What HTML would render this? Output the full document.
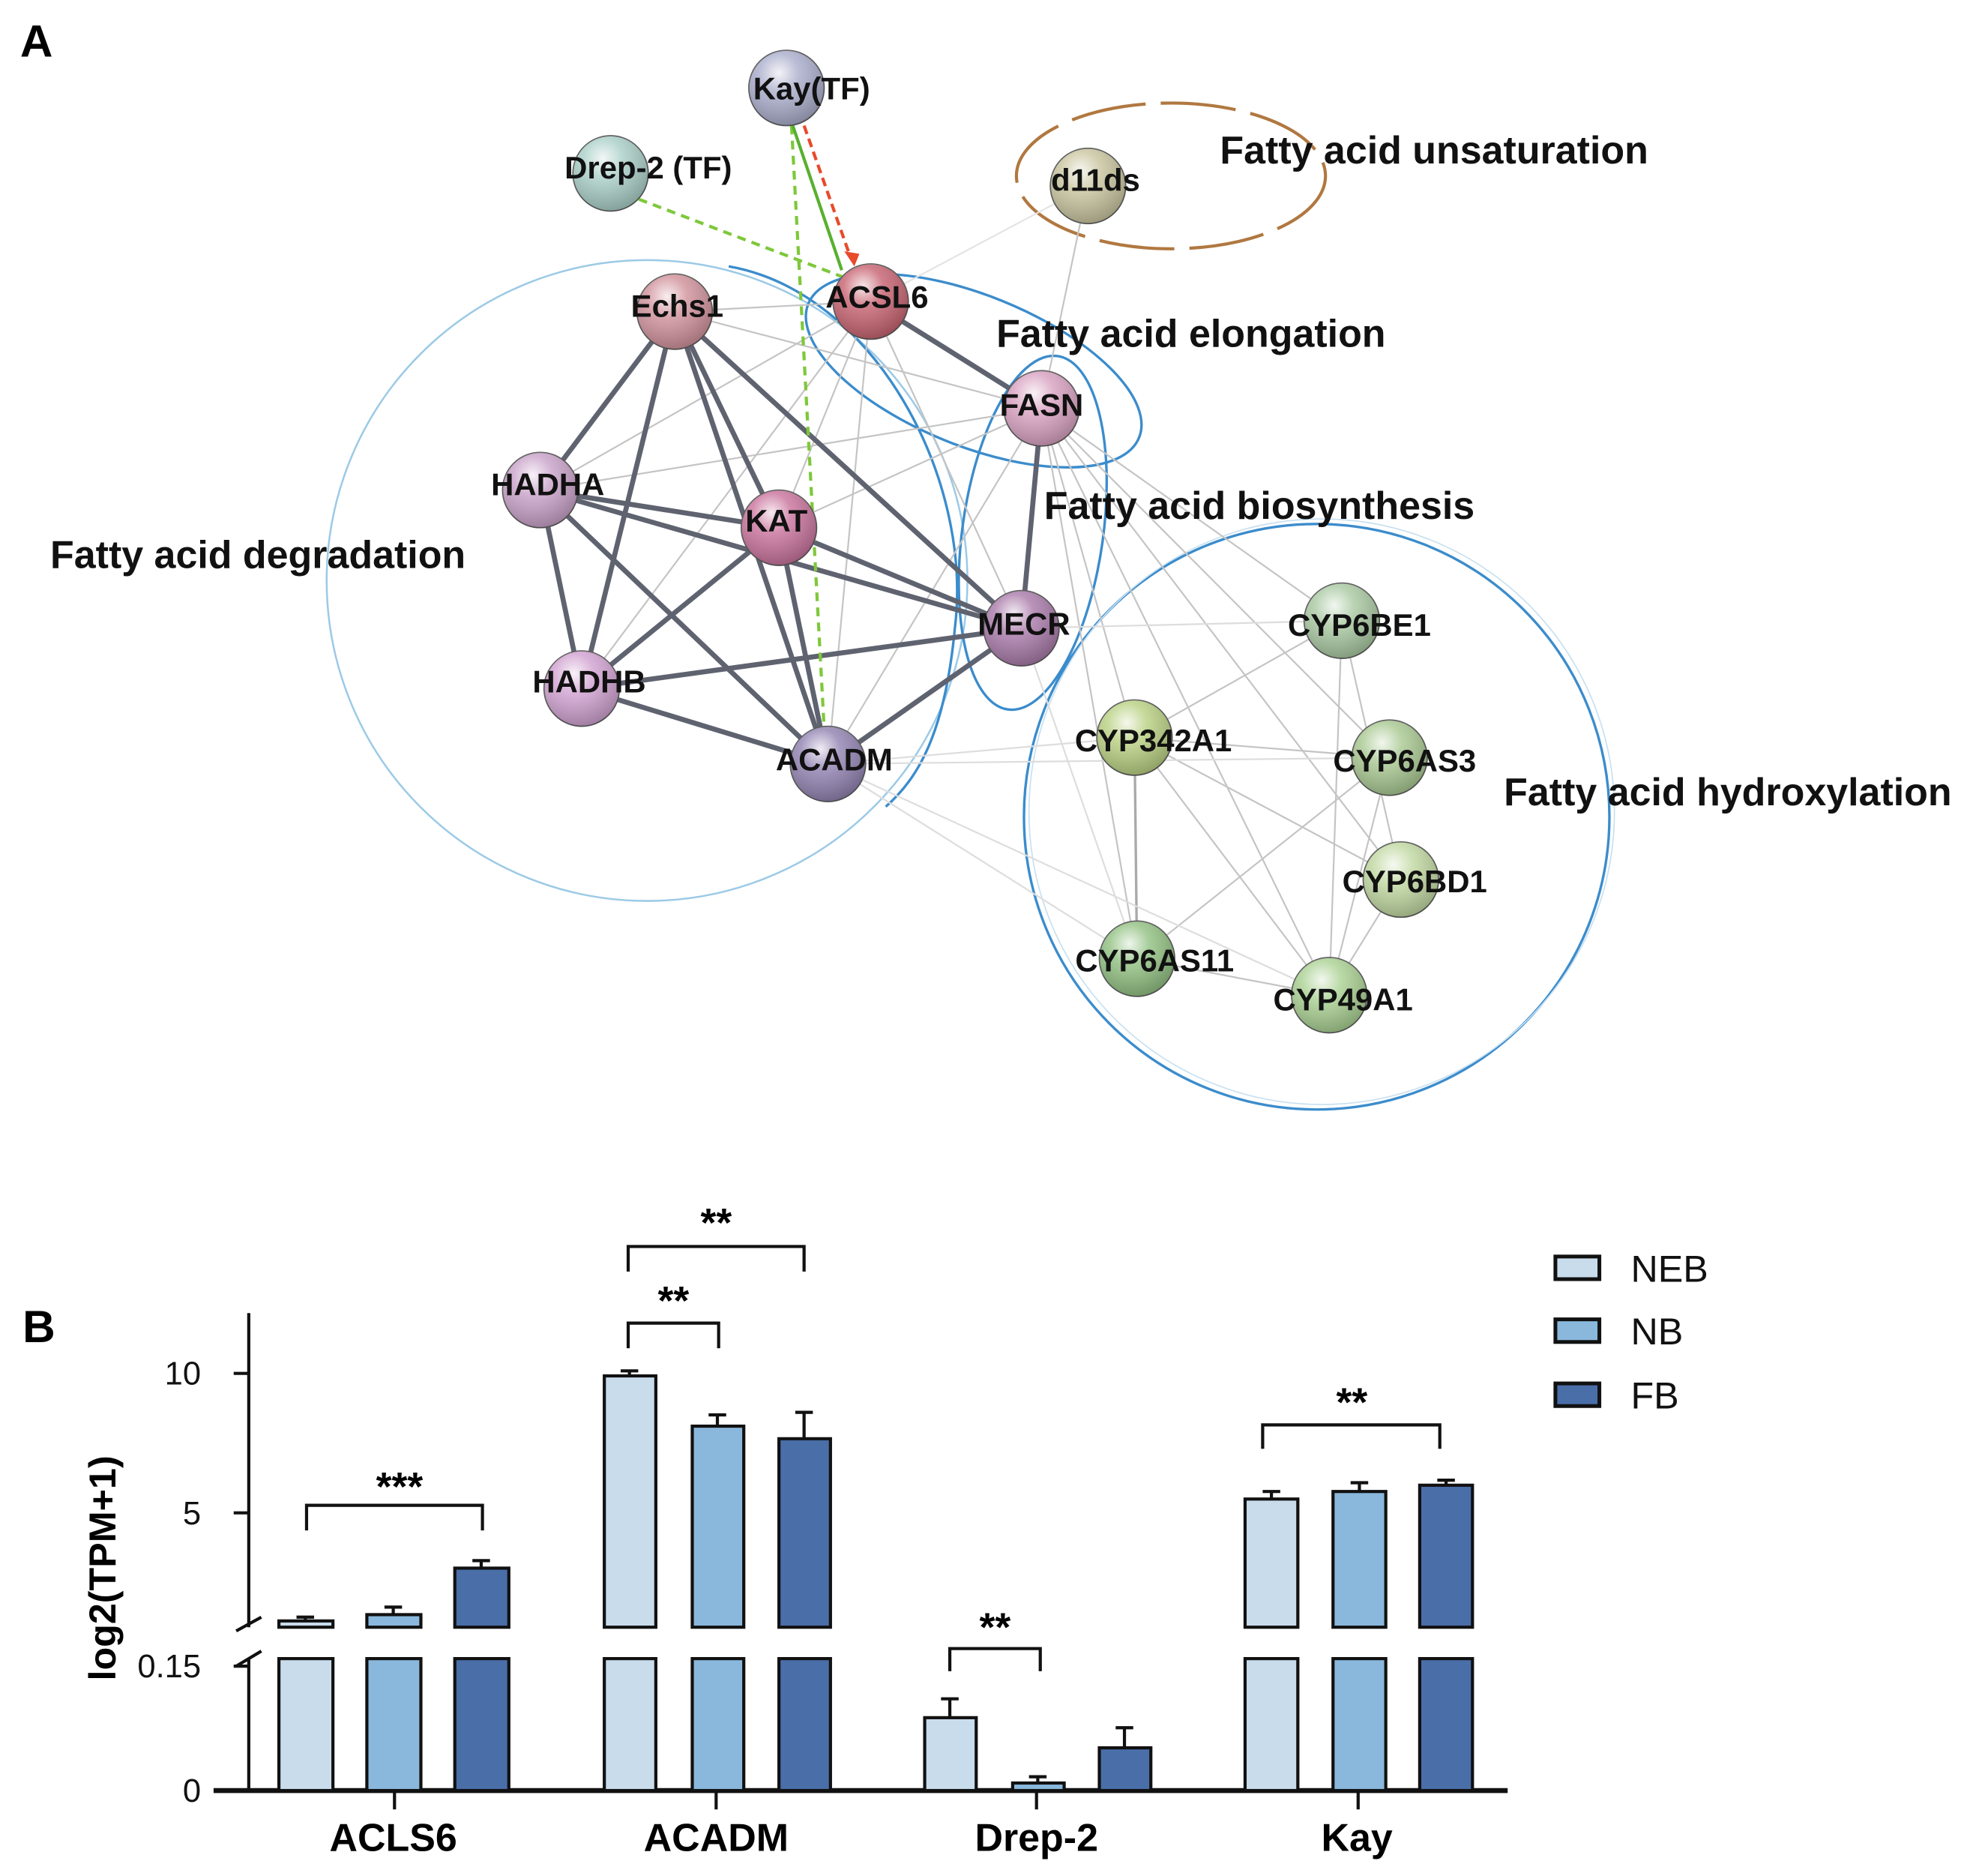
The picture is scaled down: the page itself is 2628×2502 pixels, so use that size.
<!DOCTYPE html>
<html><head><meta charset="utf-8"><style>html,body{margin:0;padding:0;background:#fff}svg{display:block}</style></head>
<body>
<svg width="2628" height="2502" viewBox="0 0 1568 1493" preserveAspectRatio="none" xmlns="http://www.w3.org/2000/svg" font-family="Liberation Sans, Arial, sans-serif">
<defs>
<radialGradient id="g" cx="0.4" cy="0.3" r="0.75"><stop offset="0" stop-color="#fff" stop-opacity="0.85"/><stop offset="0.35" stop-color="#fff" stop-opacity="0.2"/><stop offset="1" stop-color="#000" stop-opacity="0.25"/></radialGradient>
</defs>
<text x="16" y="45" font-size="36" font-weight="bold">A</text>
<text x="18" y="1068" font-size="36" font-weight="bold">B</text>

<circle cx="515" cy="462" r="255" fill="none" stroke="#9ccae6" stroke-width="1.5"/>
<path d="M580 212 C695 232 775 380 760 500 C752 585 730 620 705 642" fill="none" stroke="#3b8ccc" stroke-width="2"/>
<ellipse cx="775" cy="295" rx="142" ry="60" transform="rotate(22 775 295)" fill="none" stroke="#3b8ccc" stroke-width="2"/>
<ellipse cx="822" cy="424" rx="56" ry="142" transform="rotate(8 822 424)" fill="none" stroke="#3b8ccc" stroke-width="2"/>
<circle cx="1048" cy="650" r="233" fill="none" stroke="#3b8ccc" stroke-width="2"/>
<circle cx="1052" cy="646" r="233" fill="none" stroke="#c8e0f0" stroke-width="1"/>
<ellipse cx="932" cy="140" rx="123" ry="58" fill="none" stroke="#b07840" stroke-width="2.5" stroke-dasharray="60 12"/>

<g stroke="#c4c4c4" stroke-width="1.3" fill="none">
<line x1="866" y1="148" x2="829" y2="325"/><line x1="866" y1="148" x2="693" y2="240" stroke="#e4e4e4"/>
<line x1="537" y1="248" x2="693" y2="240"/><line x1="537" y1="248" x2="829" y2="325"/>
<line x1="430" y1="390" x2="829" y2="325"/><line x1="693" y1="240" x2="430" y2="390"/>
<line x1="693" y1="240" x2="463" y2="548"/><line x1="693" y1="240" x2="659" y2="608"/>
<line x1="693" y1="240" x2="813" y2="500"/><line x1="693" y1="240" x2="620" y2="420"/>
<line x1="829" y1="325" x2="620" y2="420"/><line x1="829" y1="325" x2="659" y2="608"/>
<line x1="829" y1="325" x2="903" y2="587"/><line x1="829" y1="325" x2="1058" y2="792"/>
<line x1="829" y1="325" x2="905" y2="763"/><line x1="829" y1="325" x2="1106" y2="603"/>
<line x1="829" y1="325" x2="1068" y2="494"/><line x1="829" y1="325" x2="1115" y2="700"/>
<line x1="903" y1="587" x2="905" y2="763" stroke="#aaa" stroke-width="2"/>
<line x1="903" y1="587" x2="1068" y2="494"/><line x1="903" y1="587" x2="1106" y2="603"/>
<line x1="903" y1="587" x2="1058" y2="792"/><line x1="903" y1="587" x2="1115" y2="700"/>
<line x1="1068" y1="494" x2="1058" y2="792"/><line x1="1068" y1="494" x2="1115" y2="700"/>
<line x1="1106" y1="603" x2="1058" y2="792"/><line x1="1115" y1="700" x2="1058" y2="792"/>
<line x1="905" y1="763" x2="1058" y2="792"/><line x1="1106" y1="603" x2="905" y2="763"/>
<line x1="659" y1="608" x2="903" y2="587" stroke="#ddd"/><line x1="659" y1="608" x2="1058" y2="792" stroke="#ddd"/>
<line x1="659" y1="608" x2="905" y2="763" stroke="#ddd"/><line x1="659" y1="608" x2="1106" y2="603" stroke="#ddd"/>
<line x1="813" y1="500" x2="1068" y2="494" stroke="#ddd"/><line x1="813" y1="500" x2="905" y2="763" stroke="#ddd"/>
</g>
<g stroke="#5f6370" stroke-width="4" fill="none">
<line x1="537" y1="248" x2="430" y2="390"/><line x1="537" y1="248" x2="463" y2="548"/>
<line x1="537" y1="248" x2="620" y2="420"/><line x1="537" y1="248" x2="659" y2="608"/>
<line x1="537" y1="248" x2="813" y2="500"/>
<line x1="430" y1="390" x2="620" y2="420"/><line x1="430" y1="390" x2="463" y2="548"/>
<line x1="430" y1="390" x2="659" y2="608"/><line x1="430" y1="390" x2="813" y2="500"/>
<line x1="620" y1="420" x2="463" y2="548"/><line x1="620" y1="420" x2="659" y2="608"/>
<line x1="620" y1="420" x2="813" y2="500"/>
<line x1="463" y1="548" x2="659" y2="608"/><line x1="463" y1="548" x2="813" y2="500"/>
<line x1="659" y1="608" x2="813" y2="500"/>
<line x1="693" y1="240" x2="829" y2="325"/><line x1="829" y1="325" x2="813" y2="500"/>
</g>
<line x1="486" y1="150" x2="675" y2="222" stroke="#7ec83a" stroke-width="2.5" stroke-dasharray="7 5"/>
<line x1="630" y1="100" x2="656" y2="580" stroke="#7ec83a" stroke-width="2.5" stroke-dasharray="7 5"/>
<line x1="631" y1="100" x2="670" y2="215" stroke="#58b030" stroke-width="2.5"/>
<line x1="640" y1="100" x2="677" y2="205" stroke="#e84a2a" stroke-width="2.5" stroke-dasharray="7 4"/>
<polygon points="672,200 684,202 680,212" fill="#e84a2a"/>

<g stroke="#555" stroke-width="1">
<circle cx="626" cy="70" r="30" fill="#a8acca"/>
<circle cx="486" cy="138" r="30" fill="#a8cec6"/>
<circle cx="866" cy="148" r="30" fill="#c8c49e"/>
<circle cx="693" cy="240" r="30" fill="#c6606e"/>
<circle cx="537" cy="248" r="30" fill="#d0909a"/>
<circle cx="829" cy="325" r="30" fill="#d8a0c0"/>
<circle cx="430" cy="390" r="30" fill="#c8a0c8"/>
<circle cx="620" cy="420" r="30" fill="#c8709a"/>
<circle cx="813" cy="500" r="30" fill="#a878a8"/>
<circle cx="463" cy="548" r="30" fill="#d0a0d0"/>
<circle cx="659" cy="608" r="30" fill="#9080b0"/>
<circle cx="1068" cy="494" r="30" fill="#a8c8a0"/>
<circle cx="903" cy="587" r="30" fill="#b8d080"/>
<circle cx="1106" cy="603" r="30" fill="#a8c890"/>
<circle cx="1115" cy="700" r="30" fill="#c0d8a0"/>
<circle cx="905" cy="763" r="30" fill="#90c080"/>
<circle cx="1058" cy="792" r="30" fill="#a8d090"/>
</g>
<g fill="url(#g)">
<circle cx="626" cy="70" r="30"/><circle cx="486" cy="138" r="30"/><circle cx="866" cy="148" r="30"/>
<circle cx="693" cy="240" r="30"/><circle cx="537" cy="248" r="30"/><circle cx="829" cy="325" r="30"/>
<circle cx="430" cy="390" r="30"/><circle cx="620" cy="420" r="30"/><circle cx="813" cy="500" r="30"/>
<circle cx="463" cy="548" r="30"/><circle cx="659" cy="608" r="30"/><circle cx="1068" cy="494" r="30"/>
<circle cx="903" cy="587" r="30"/><circle cx="1106" cy="603" r="30"/><circle cx="1115" cy="700" r="30"/>
<circle cx="905" cy="763" r="30"/><circle cx="1058" cy="792" r="30"/>
</g>
<g font-size="25" font-weight="bold" text-anchor="middle" fill="#111">
<text x="646" y="79">Kay(TF)</text>
<text x="516" y="142">Drep-2 (TF)</text>
<text x="872" y="152">d11ds</text>
<text x="698" y="245">ACSL6</text>
<text x="539" y="252">Echs1</text>
<text x="829" y="331">FASN</text>
<text x="436" y="394">HADHA</text>
<text x="618" y="423">KAT</text>
<text x="815" y="505">MECR</text>
<text x="469" y="551">HADHB</text>
<text x="664" y="613">ACADM</text>
<text x="1082" y="506">CYP6BE1</text>
<text x="918" y="598">CYP342A1</text>
<text x="1118" y="614">CYP6AS3</text>
<text x="1126" y="710">CYP6BD1</text>
<text x="919" y="773">CYP6AS11</text>
<text x="1069" y="804">CYP49A1</text>
</g>
<g font-size="31" font-weight="bold" fill="#111">
<text x="971" y="130">Fatty acid unsaturation</text>
<text x="793" y="276">Fatty acid elongation</text>
<text x="831" y="413">Fatty acid biosynthesis</text>
<text x="40" y="452">Fatty acid degradation</text>
<text x="1197" y="641">Fatty acid hydroxylation</text>
</g>

<g stroke="#111" stroke-width="2.5">
<line x1="198" y1="1045" x2="198" y2="1295"/>
<line x1="198" y1="1320" x2="198" y2="1425"/>
<line x1="170" y1="1425" x2="1200" y2="1425" stroke-width="4"/>
<line x1="186" y1="1093" x2="198" y2="1093"/><line x1="186" y1="1204" x2="198" y2="1204"/>
<line x1="186" y1="1326" x2="198" y2="1326"/><line x1="186" y1="1425" x2="198" y2="1425"/>
<line x1="188" y1="1298" x2="208" y2="1287"/><line x1="188" y1="1326" x2="208" y2="1314"/>
<line x1="314" y1="1425" x2="314" y2="1440"/><line x1="570" y1="1425" x2="570" y2="1440"/>
<line x1="825" y1="1425" x2="825" y2="1440"/><line x1="1081" y1="1425" x2="1081" y2="1440"/>
</g>
<g font-size="26" text-anchor="end" fill="#111">
<text x="160" y="1102">10</text><text x="160" y="1213">5</text>
<text x="160" y="1335">0.15</text><text x="160" y="1434">0</text>
</g>
<text transform="translate(92 1248) rotate(-90)" font-size="30" font-weight="bold" text-anchor="middle">log2(TPM+1)</text>
<g font-size="31" font-weight="bold" text-anchor="middle">
<text x="313" y="1473">ACLS6</text><text x="570" y="1473">ACADM</text>
<text x="825" y="1473">Drep-2</text><text x="1080" y="1473">Kay</text>
</g>
<g stroke="#111" stroke-width="2.5">
<rect x="222" y="1290" width="43" height="5" fill="#c8dcec"/><rect x="222" y="1320" width="43" height="105" fill="#c8dcec"/>
<rect x="292" y="1285" width="43" height="10" fill="#8ab8dc"/><rect x="292" y="1320" width="43" height="105" fill="#8ab8dc"/>
<rect x="362" y="1248" width="43" height="47" fill="#4a6ea8"/><rect x="362" y="1320" width="43" height="105" fill="#4a6ea8"/>
<rect x="481" y="1095" width="41" height="200" fill="#c8dcec"/><rect x="481" y="1320" width="41" height="105" fill="#c8dcec"/>
<rect x="551" y="1135" width="41" height="160" fill="#8ab8dc"/><rect x="551" y="1320" width="41" height="105" fill="#8ab8dc"/>
<rect x="620" y="1145" width="41" height="150" fill="#4a6ea8"/><rect x="620" y="1320" width="41" height="105" fill="#4a6ea8"/>
<rect x="736" y="1367" width="41" height="58" fill="#c8dcec"/>
<rect x="806" y="1419" width="41" height="6" fill="#8ab8dc"/>
<rect x="875" y="1391" width="41" height="34" fill="#4a6ea8"/>
<rect x="991" y="1193" width="42" height="102" fill="#c8dcec"/><rect x="991" y="1320" width="42" height="105" fill="#c8dcec"/>
<rect x="1061" y="1187" width="42" height="108" fill="#8ab8dc"/><rect x="1061" y="1320" width="42" height="105" fill="#8ab8dc"/>
<rect x="1130" y="1182" width="42" height="113" fill="#4a6ea8"/><rect x="1130" y="1320" width="42" height="105" fill="#4a6ea8"/>
</g>
<g stroke="#111" stroke-width="2.5" fill="none">
<path d="M243 1290V1287M236 1287H250"/>
<path d="M313 1285V1279M306 1279H320"/>
<path d="M383 1248V1242M376 1242H390"/>
<path d="M501 1095V1091M494 1091H508"/>
<path d="M571 1135V1126M564 1126H578"/>
<path d="M640 1145V1124M633 1124H647"/>
<path d="M756 1367V1352M749 1352H763"/>
<path d="M826 1419V1414M819 1414H833"/>
<path d="M895 1391V1375M888 1375H902"/>
<path d="M1012 1193V1187M1005 1187H1019"/>
<path d="M1082 1187V1180M1075 1180H1089"/>
<path d="M1151 1182V1178M1144 1178H1158"/>
<path d="M244 1218V1198H384V1218"/>
<path d="M500 1012V992H640V1012"/>
<path d="M500 1073V1053H572V1073"/>
<path d="M756 1330V1312H828V1330"/>
<path d="M1005 1153V1134H1146V1153"/>
</g>
<g font-size="32" font-weight="bold" text-anchor="middle">
<text x="318" y="1194">***</text>
<text x="570" y="984">**</text>
<text x="536" y="1046">**</text>
<text x="792" y="1306">**</text>
<text x="1076" y="1127">**</text>
</g>
<g stroke="#111" stroke-width="3">
<rect x="1238" y="1000" width="35" height="18" fill="#c8dcec"/>
<rect x="1238" y="1050" width="35" height="18" fill="#8ab8dc"/>
<rect x="1238" y="1101" width="35" height="18" fill="#4a6ea8"/>
</g>
<g font-size="30" fill="#111">
<text x="1298" y="1020">NEB</text><text x="1298" y="1070">NB</text><text x="1298" y="1121">FB</text>
</g>
</svg>
</body></html>
